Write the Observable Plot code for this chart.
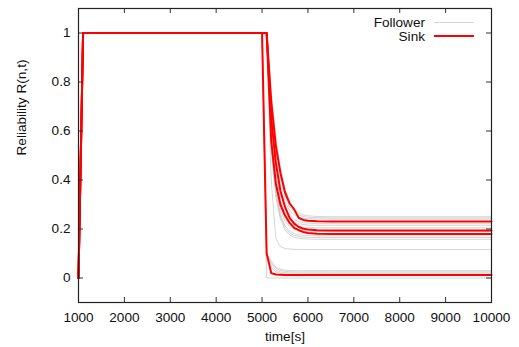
<!DOCTYPE html>
<html><head><meta charset="utf-8">
<script src="https://cdn.jsdelivr.net/npm/d3@7"></script>
<script src="https://cdn.jsdelivr.net/npm/@observablehq/plot@0.6"></script>
<style>body{margin:0;background:#fff}</style>
</head><body><div id="chart"></div>
<script>
// Sample times (s)
const times = [1000,1100,5000,5100,5200,5300,5400,5500,5600,5700,5800,5900,6000,6200,6500,10000];

// Sink series (red)
const sinkA = [0,1,1,1,0.72,0.54,0.43,0.35,0.305,0.28,0.245,0.237,0.234,0.232,0.231,0.231];
const sinkB = [0,1,1,1,0.65,0.47,0.355,0.29,0.245,0.222,0.208,0.201,0.198,0.195,0.194,0.194];
const sinkC = [0,1,1,1,0.56,0.386,0.3,0.255,0.225,0.205,0.195,0.188,0.184,0.181,0.18,0.18];
const sinkD = [0,1,1,0.1,0.02,0.014,0.013,0.012,0.012,0.012,0.012,0.012,0.012,0.012,0.012,0.012];
const sinkSeries = [sinkA, sinkB, sinkC, sinkD];

// Follower series (grey)
const followerSeries = [
  [0,1,1,1,0.76,0.57,0.45,0.36,0.31,0.28,0.265,0.257,0.254,0.251,0.25,0.25],
  [0,1,1,1,0.72,0.53,0.41,0.335,0.292,0.27,0.257,0.251,0.248,0.246,0.245,0.245],
  [0,1,1,1,0.69,0.5,0.38,0.31,0.276,0.258,0.249,0.244,0.242,0.241,0.24,0.24],
  [0,1,1,1,0.66,0.47,0.36,0.29,0.256,0.239,0.23,0.226,0.224,0.222,0.222,0.222],
  [0,1,1,1,0.62,0.43,0.32,0.266,0.24,0.228,0.221,0.218,0.216,0.215,0.215,0.215],
  [0,1,1,1,0.59,0.4,0.3,0.25,0.227,0.216,0.21,0.207,0.206,0.205,0.205,0.205],
  [0,1,1,1,0.57,0.38,0.28,0.232,0.21,0.2,0.195,0.192,0.191,0.19,0.19,0.19],
  [0,1,1,1,0.55,0.36,0.26,0.213,0.191,0.181,0.176,0.174,0.173,0.172,0.172,0.172],
  [0,1,1,1,0.54,0.35,0.25,0.205,0.184,0.174,0.169,0.167,0.166,0.165,0.165,0.165],
  [0,1,1,1,0.52,0.33,0.24,0.196,0.176,0.166,0.162,0.16,0.159,0.158,0.158,0.158],
  [0,1,1,1,0.4,0.16,0.128,0.12,0.118,0.117,0.116,0.116,0.116,0.116,0.116,0.116],
  [0,1,1,0.1,0.07,0.045,0.036,0.032,0.031,0.03,0.03,0.03,0.03,0.03,0.03,0.03],
  [0,1,1,0.1,0.062,0.04,0.031,0.027,0.026,0.025,0.025,0.025,0.025,0.025,0.025,0.025],
  [0,1,1,0.1,0.055,0.032,0.025,0.022,0.021,0.02,0.02,0.02,0.02,0.02,0.02,0.02],
  [0,1,1,0.1,0.045,0.025,0.019,0.016,0.015,0.015,0.015,0.015,0.015,0.015,0.015,0.015],
  [0,1,1,0,0,0,0,0,0,0,0,0,0,0,0,0]
];

const xTicks = [1000,2000,3000,4000,5000,6000,7000,8000,9000,10000];
const yTicks = [0,0.2,0.4,0.6,0.8,1];
const legendLabels = ["Follower","Sink"];
const xLabel = "time[s]";
const yLabel = "Reliability R(n,t)";

function toRows(seriesList, prefix) {
  const rows = [];
  seriesList.forEach((s, i) => s.forEach((v, j) => rows.push({id: prefix + i, t: times[j], r: v})));
  return rows;
}
const followerRows = toRows(followerSeries, "f");
const sinkRows = toRows(sinkSeries, "s");

const W = 519, H = 347, mL = 78, mR = 28, mT = 8, mB = 45;
const innerW = W - mL - mR, innerH = H - mT - mB;
const tk = 5;
const FS = 13.6;
const FONT = "'Liberation Sans', Arial, sans-serif";

const chart = Plot.plot({
  width: W, height: H,
  marginLeft: mL, marginRight: mR, marginTop: mT, marginBottom: mB,
  style: {fontFamily: FONT, fontSize: FS + "px", background: "white", color: "black", overflow: "visible"},
  x: {domain: [1000, 10000]},
  y: {domain: [-0.1, 1.1]},
  marks: [
    Plot.line(followerRows, {x: "t", y: "r", z: "id", stroke: "#b4b4b4", strokeOpacity: 0.55, strokeWidth: 1}),
    Plot.line(sinkRows, {x: "t", y: "r", z: "id", stroke: "#ff0000", strokeWidth: 2}),
    Plot.ruleX(xTicks, {x: d => d, insetTop: innerH - tk, stroke: "#333"}),
    Plot.ruleX(xTicks, {x: d => d, insetBottom: innerH - tk, stroke: "#333"}),
    Plot.ruleY(yTicks, {y: d => d, insetRight: innerW - tk, stroke: "#333"}),
    Plot.ruleY(yTicks, {y: d => d, insetLeft: innerW - tk, stroke: "#333"}),
    Plot.frame({stroke: "#222", strokeWidth: 1.2}),
    Plot.axisX({ticks: xTicks, tickSize: 0, tickPadding: 10, tickFormat: d => String(d), label: null, fontSize: FS, fill: "#111"}),
    Plot.axisY({ticks: yTicks, tickSize: 0, tickPadding: 8, tickFormat: d => String(d), label: null, fontSize: FS, fill: "#111"}),
    Plot.text([xLabel], {frameAnchor: "bottom", dy: 38.5, fontSize: FS, fill: "#111"}),
    Plot.text([yLabel], {frameAnchor: "left", dx: -57, rotate: -90, fontSize: FS, fill: "#111"})
  ]
});
document.getElementById("chart").appendChild(chart);

// Legend (top right, gnuplot style)
const svg = d3.select(chart);
const lg = svg.append("g").attr("font-family", FONT).attr("font-size", FS);
const legendStyles = [
  {stroke: "#b4b4b4", opacity: 0.55, width: 1, y: 22.5},
  {stroke: "#ff0000", opacity: 1, width: 2, y: 36}
];
legendLabels.forEach((lab, i) => {
  const st = legendStyles[i];
  lg.append("text").attr("x", 425).attr("y", st.y).attr("dy", "0.35em")
    .attr("text-anchor", "end").attr("fill", "#111").text(lab);
  lg.append("line").attr("x1", 434).attr("x2", 474).attr("y1", st.y).attr("y2", st.y)
    .attr("stroke", st.stroke).attr("stroke-opacity", st.opacity).attr("stroke-width", st.width);
});
</script></body></html>
